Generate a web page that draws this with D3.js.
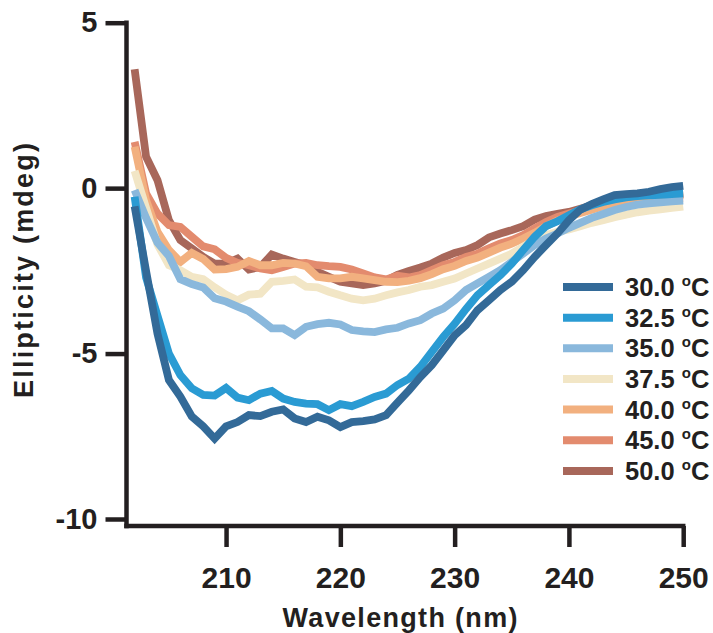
<!DOCTYPE html>
<html>
<head>
<meta charset="utf-8">
<script src="https://cdn.jsdelivr.net/npm/d3@7"></script>
<style>
  html, body { margin: 0; padding: 0; background: #fff; }
  svg { display: block; }
  text { font-family: "Liberation Sans", Arial, Helvetica, sans-serif; font-weight: bold; fill: #231f20; }
</style>
</head>
<body>
<svg id="chart" width="713" height="633"></svg>
<script>
// CD spectra: wavelength (nm) and ellipticity (mdeg) at each temperature
const wavelengths = d3.range(202, 251);

const temperatures = ["30.0", "32.5", "35.0", "37.5", "40.0", "45.0", "50.0"];
const colors = ["#336a98", "#2a9bd3", "#8ab8dc", "#f2e6c6", "#f2b07f", "#e38b6e", "#a8675a"];

const t30 = [-0.55, -2.5, -4.4, -5.8, -6.3, -6.9, -7.2, -7.57, -7.2, -7.07,
  -6.86, -6.89, -6.76, -6.69, -6.96, -7.07, -6.91, -7.02, -7.22, -7.07,
  -7.04, -6.99, -6.86, -6.48, -6.11, -5.71, -5.35, -4.9, -4.45, -4.14,
  -3.69, -3.39, -3.08, -2.83, -2.48, -2.08, -1.72, -1.37, -0.97, -0.65,
  -0.48, -0.34, -0.21, -0.18, -0.16, -0.11, -0.03, 0.03, 0.07];

const t32_5 = [-0.26, -2.7, -3.85, -5.0, -5.65, -6.05, -6.25, -6.27, -6.04, -6.33,
  -6.41, -6.21, -6.13, -6.36, -6.46, -6.51, -6.53, -6.71, -6.53, -6.59,
  -6.46, -6.31, -6.21, -5.95, -5.76, -5.4, -4.95, -4.5, -4.1, -3.65,
  -3.24, -2.93, -2.63, -2.28, -1.87, -1.47, -1.15, -1.0, -0.82, -0.64,
  -0.52, -0.42, -0.34, -0.28, -0.24, -0.22, -0.2, -0.18, -0.16];

const t35 = [-0.06, -0.9, -1.65, -2.05, -2.75, -2.9, -3.0, -3.33, -3.43, -3.58,
  -3.72, -3.97, -4.24, -4.24, -4.44, -4.19, -4.11, -4.07, -4.12, -4.29,
  -4.33, -4.35, -4.27, -4.22, -4.09, -3.99, -3.79, -3.64, -3.39, -3.08,
  -2.88, -2.68, -2.48, -2.23, -1.98, -1.72, -1.52, -1.37, -1.2, -1.05,
  -0.9, -0.78, -0.66, -0.57, -0.5, -0.46, -0.43, -0.4, -0.38];

const t37_5 = [0.52, -0.6, -1.7, -2.33, -2.48, -2.68, -2.75, -3.0, -3.22, -3.39,
  -3.22, -3.19, -2.83, -2.8, -2.76, -2.98, -3.0, -3.13, -3.24, -3.34,
  -3.39, -3.34, -3.24, -3.15, -3.08, -2.98, -2.93, -2.83, -2.73, -2.58,
  -2.43, -2.28, -2.13, -1.98, -1.77, -1.57, -1.42, -1.32, -1.25, -1.15,
  -1.05, -0.97, -0.88, -0.8, -0.73, -0.68, -0.64, -0.6, -0.56];

const t40 = [1.25, -0.36, -1.32, -1.87, -2.23, -1.96, -2.14, -2.46, -2.45, -2.38,
  -2.2, -2.33, -2.33, -2.26, -2.28, -2.36, -2.68, -2.73, -2.73, -2.68,
  -2.73, -2.78, -2.83, -2.84, -2.8, -2.72, -2.6, -2.45, -2.35, -2.2,
  -2.1, -1.95, -1.8, -1.68, -1.52, -1.35, -1.15, -0.98, -0.85, -0.75,
  -0.65, -0.55, -0.47, -0.42, -0.38, -0.35, -0.32, -0.3, -0.3];

const t45 = [1.4, -0.16, -0.77, -1.12, -1.17, -1.47, -1.76, -1.85, -2.11, -2.26,
  -2.33, -2.43, -2.48, -2.38, -2.28, -2.26, -2.33, -2.36, -2.38, -2.46,
  -2.58, -2.7, -2.76, -2.65, -2.7, -2.63, -2.48, -2.33, -2.23, -2.08,
  -1.98, -1.82, -1.67, -1.57, -1.42, -1.22, -1.02, -0.87, -0.77, -0.68,
  -0.58, -0.5, -0.42, -0.36, -0.32, -0.28, -0.25, -0.22, -0.2];

const t50 = [3.59, 0.95, 0.24, -0.97, -1.57, -1.82, -2.08, -2.28, -2.28, -2.13,
  -2.46, -2.38, -2.01, -2.13, -2.23, -2.33, -2.53, -2.68, -2.83, -2.88,
  -2.93, -2.88, -2.8, -2.62, -2.5, -2.4, -2.28, -2.1, -1.96, -1.87,
  -1.72, -1.49, -1.37, -1.27, -1.15, -0.95, -0.84, -0.78, -0.72, -0.62,
  -0.52, -0.44, -0.37, -0.32, -0.28, -0.25, -0.22, -0.2, -0.18];

const seriesValues = [t30, t32_5, t35, t37_5, t40, t45, t50];

const xTicks = [210, 220, 230, 240, 250];
const yTicks = [5, 0, -5, -10];

// ---- layout ----
const svg = d3.select("#chart");
const x = d3.scaleLinear().domain([201, 250]).range([123.2, 683.2]);
const y = d3.scaleLinear().domain([-10, 5]).range([519, 22.7]);
const axisBottomY = 526;
const axisColor = "#231f20";
// plain hyphen-minus for negative tick labels
const intFormat = d3.formatLocale({ decimal: ".", thousands: ",", grouping: [3], currency: ["", ""], minus: "-" }).format("d");

// curves: hottest drawn first so the cooler spectra sit on top
const line = d3.line()
  .x((d, i) => x(wavelengths[i]))
  .y(d => y(d));

const order = d3.range(seriesValues.length).reverse();
svg.append("g")
  .selectAll("path")
  .data(order)
  .join("path")
  .attr("d", k => line(seriesValues[k]))
  .attr("fill", "none")
  .attr("stroke", k => colors[k])
  .attr("stroke-width", 7.8)
  .attr("stroke-linejoin", "miter")
  .attr("stroke-miterlimit", 3)
  .attr("stroke-linecap", "butt");

// y axis
const yAxis = svg.append("g")
  .attr("transform", `translate(126.5,0)`)
  .call(d3.axisLeft(y).tickValues(yTicks).tickSize(21).tickSizeOuter(0).tickPadding(8)
    .tickFormat(intFormat));
yAxis.select(".domain").remove();
yAxis.selectAll(".tick line").attr("stroke", axisColor).attr("stroke-width", 4.5);
yAxis.selectAll(".tick text").attr("font-size", 29).attr("fill", axisColor)
  .attr("font-family", "Liberation Sans, Arial, sans-serif").attr("font-weight", "bold");
svg.append("line")
  .attr("x1", 126.5).attr("x2", 126.5)
  .attr("y1", y(5) - 2.25).attr("y2", axisBottomY + 2.25)
  .attr("stroke", axisColor).attr("stroke-width", 4.5);

// x axis
const xAxis = svg.append("g")
  .attr("transform", `translate(0,${axisBottomY})`)
  .call(d3.axisBottom(x).tickValues(xTicks).tickSize(21).tickSizeOuter(0).tickPadding(20)
    .tickFormat(intFormat));
xAxis.select(".domain").remove();
xAxis.selectAll(".tick line").attr("stroke", axisColor).attr("stroke-width", 4.5);
xAxis.selectAll(".tick text").attr("font-size", 30).attr("fill", axisColor)
  .attr("font-family", "Liberation Sans, Arial, sans-serif").attr("font-weight", "bold");
svg.append("line")
  .attr("x1", 124.25).attr("x2", x(250) + 2.25)
  .attr("y1", axisBottomY).attr("y2", axisBottomY)
  .attr("stroke", axisColor).attr("stroke-width", 4.5);

// axis titles
svg.append("text")
  .attr("x", 400).attr("y", 627)
  .attr("text-anchor", "middle")
  .attr("font-size", 27)
  .attr("textLength", 235)
  .attr("lengthAdjust", "spacing")
  .text("Wavelength (nm)");

svg.append("text")
  .attr("transform", "translate(33,270.5) rotate(-90)")
  .attr("text-anchor", "middle")
  .attr("font-size", 27)
  .attr("textLength", 255)
  .attr("lengthAdjust", "spacing")
  .text("Ellipticity (mdeg)");

// legend
const legend = svg.append("g");
const rows = legend.selectAll("g")
  .data(temperatures)
  .join("g")
  .attr("transform", (d, i) => `translate(563,${287 + i * 30.65})`);
rows.append("line")
  .attr("x1", 0).attr("x2", 50)
  .attr("stroke", (d, i) => colors[i])
  .attr("stroke-width", 8);
const labels = rows.append("text")
  .attr("x", 62).attr("y", 9)
  .attr("font-size", 25.5);
labels.append("tspan").text(d => d + " ");
labels.append("tspan").attr("font-size", 15).attr("dy", -10).text("o");
labels.append("tspan").attr("dy", 10).text("C");
</script>
</body>
</html>
